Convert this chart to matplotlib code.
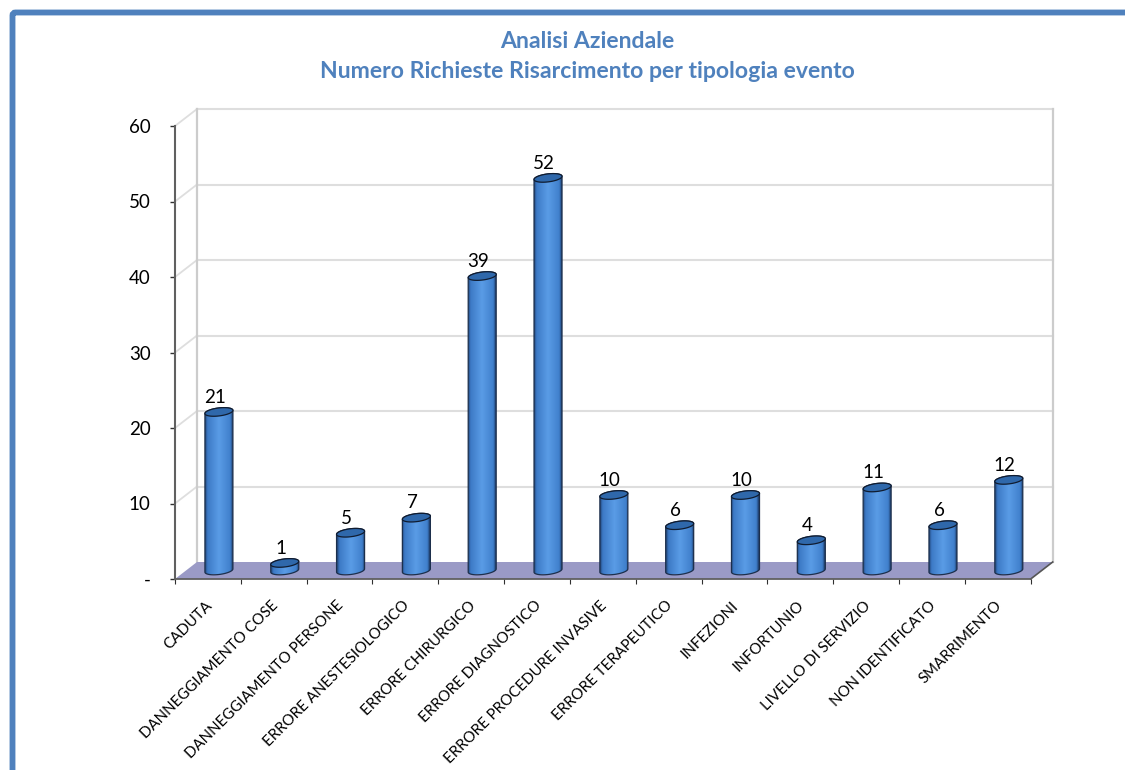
import numpy as np
import matplotlib
matplotlib.use('Agg')
import matplotlib.pyplot as plt
from matplotlib.colors import LinearSegmentedColormap
from matplotlib.patches import Polygon, FancyBboxPatch
from matplotlib.transforms import ScaledTranslation

categories = ['CADUTA', 'DANNEGGIAMENTO COSE', 'DANNEGGIAMENTO PERSONE', 'ERRORE ANESTESIOLOGICO',
              'ERRORE CHIRURGICO', 'ERRORE DIAGNOSTICO', 'ERRORE PROCEDURE INVASIVE', 'ERRORE TERAPEUTICO',
              'INFEZIONI', 'INFORTUNIO', 'LIVELLO DI SERVIZIO', 'NON IDENTIFICATO', 'SMARRIMENTO']
values = [21, 1, 5, 7, 39, 52, 10, 6, 10, 4, 11, 6, 12]
y_ticks = [0, 10, 20, 30, 40, 50, 60]
y_labels = ['-', '10', '20', '30', '40', '50', '60']
title = 'Analisi Aziendale\nNumero Richieste Risarcimento per tipologia evento'

W, H = 1125, 770
plt.rcParams['font.family'] = ['Lato', 'DejaVu Sans']

# front plane of the fake 3d box, in pixels
left, right, bottom, top = 175, 1030.7, 579, 126
px_x = (right - left) / len(categories)
px_y = (bottom - top) / 60
depth_x = 22 / px_x
depth_y = 17 / px_y
half_w = 14 / px_x
ell_h = 4 / px_y
ell_tilt = 1.6 / px_y

fig = plt.figure(figsize=(W / 100, H / 100), dpi=100)

# page layer: border and title
bg = fig.add_axes([0, 0, 1, 1])
bg.set_xlim(0, W)
bg.set_ylim(H, 0)
bg.axis('off')
bg.add_patch(FancyBboxPatch((12.5, 12.5), W + 50, H + 50, boxstyle='round,pad=0,rounding_size=3',
                            fc='white', ec='#4f81bd', lw=4.2, clip_on=True))
bg.text(587, 56.5, title, ha='center', va='center', color='#4f81bd', fontsize=16.6,
        fontweight='bold', linespacing=1.56)

ax = fig.add_axes([left / W, 1 - bottom / H, (right - left) / W, (bottom - top) / H])
ax.patch.set_alpha(0)
n = len(categories)

# floor
ax.add_patch(Polygon([(0, 0), (n, 0), (n + depth_x, depth_y), (depth_x, depth_y)],
                     fc='#9a9ac6', ec='none', zorder=1, clip_on=False))

# back wall, side wall and gridlines
grid_col = '#dedede'
for t in y_ticks[1:]:
    ax.plot([depth_x, n + depth_x], [t + depth_y, t + depth_y], color=grid_col, lw=1.5, zorder=0.5, clip_on=False)
    ax.plot([0, depth_x], [t, t + depth_y], color=grid_col, lw=1.3, zorder=0.5, clip_on=False)
ax.plot([depth_x, depth_x], [depth_y, 60 + depth_y], color='#cccccc', lw=1.6, zorder=0.6, clip_on=False)
ax.plot([n + depth_x, n + depth_x], [depth_y, 60 + depth_y], color='#cccccc', lw=1.6, zorder=0.6, clip_on=False)
ax.plot([n, n + depth_x], [0, depth_y], color='#555555', lw=1.2, zorder=1.2, clip_on=False)

bar_cmap = LinearSegmentedColormap.from_list('cyl', [(0, '#234a80'), (0.09, '#3d7ac6'), (0.5, '#5a9ce6'),
                                                    (0.91, '#4080cc'), (1, '#1f3f70')])
grad = np.linspace(0, 1, 64).reshape(1, -1)
t_back = np.linspace(0, np.pi, 40)
t_front = np.linspace(np.pi, 2 * np.pi, 40)

for i, v in enumerate(values):
    cx = i + 0.5 + depth_x / 2
    y0 = depth_y / 2
    y1 = y0 + v

    # bottom arc, then back half of the top ellipse
    xs = np.concatenate([cx + half_w * np.cos(t_front), cx + half_w * np.cos(t_back)])
    ys = np.concatenate([y0 + ell_h * np.sin(t_front) + ell_tilt * np.cos(t_front),
                         y1 + ell_h * np.sin(t_back) + ell_tilt * np.cos(t_back)])
    body = Polygon(np.column_stack([xs, ys]), fc='none', ec='#1c2f4c', lw=0.9, zorder=3)
    ax.add_patch(body)
    im = ax.imshow(grad, cmap=bar_cmap, aspect='auto', zorder=2.5,
                   extent=[cx - half_w, cx + half_w, y0 - ell_h, y1 + ell_h])
    im.set_clip_path(body)

    t_all = np.linspace(0, 2 * np.pi, 80)
    ax.add_patch(Polygon(np.column_stack([cx + half_w * np.cos(t_all),
                                          y1 + ell_h * np.sin(t_all) + ell_tilt * np.cos(t_all)]),
                         fc='#2f68ab', ec='#101c30', lw=0.9, zorder=3.2))
    ax.annotate(str(v), (cx, y1), xytext=(-2.9, 10.6), textcoords='offset points', ha='center', va='center',
                fontsize=13.5, color='black', zorder=4, annotation_clip=False)

ax.set_xlim(0, n)
ax.set_ylim(0, 60)

for s in ['top', 'right']:
    ax.spines[s].set_visible(False)
ax.spines['left'].set_color('#606060')
ax.spines['left'].set_linewidth(1.5)
ax.spines['bottom'].set_color('#606060')
ax.spines['bottom'].set_linewidth(1.3)

ax.set_yticks(y_ticks)
ax.set_yticklabels(y_labels, fontsize=13.5, color='black')
ax.tick_params(axis='y', length=3.6, width=1, color='#303030', pad=14)

ax.set_xticks(np.arange(n + 1))
ax.set_xticklabels([])
ax.tick_params(axis='x', which='major', length=3.6, width=0.8, color='#303030')
ax.set_xticks(np.arange(n) + 0.5, minor=True)
ax.set_xticklabels(categories, minor=True, rotation=45, ha='right', va='top', rotation_mode='anchor',
                   fontsize=10.8, color='black')
ax.tick_params(axis='x', which='minor', length=0, pad=14)
shift = ScaledTranslation(-3 / 100, 0, fig.dpi_scale_trans)
for lab in ax.get_xticklabels(minor=True):
    lab.set_transform(lab.get_transform() + shift)

fig.savefig('out.png', dpi=100)
